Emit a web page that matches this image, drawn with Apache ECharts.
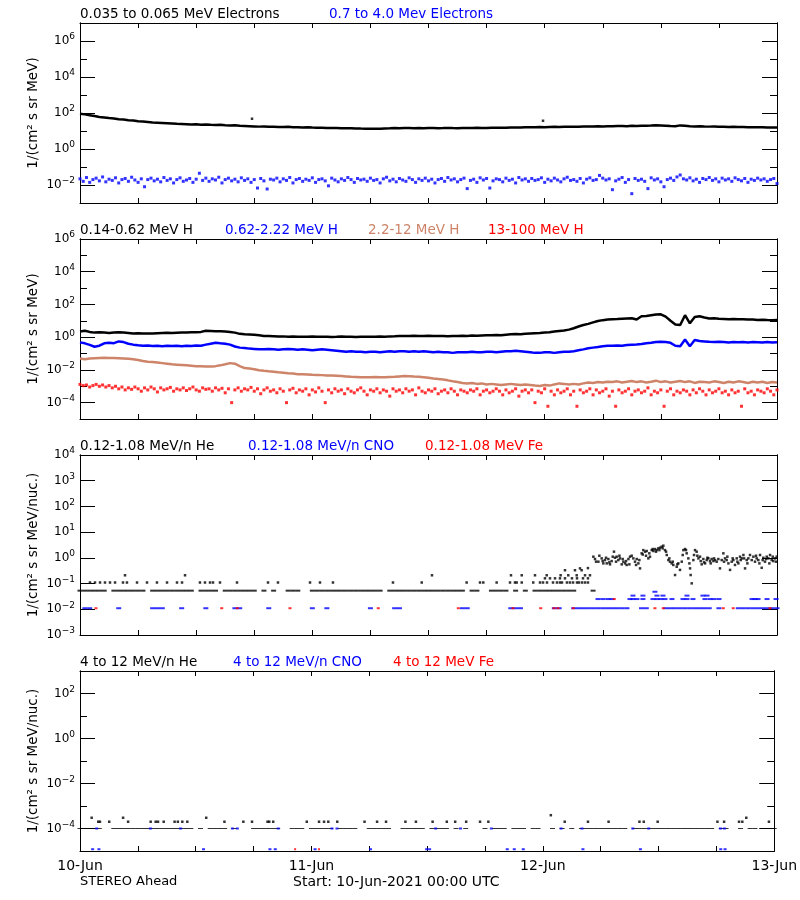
<!DOCTYPE html>
<html><head><meta charset="utf-8">
<script src="https://cdn.jsdelivr.net/npm/echarts@6/dist/echarts.min.js"></script>
<style>html,body{margin:0;padding:0;background:#fff}#c{width:800px;height:900px}</style>
</head><body><div id="c"></div>
<script>
// ---------------- DATA ----------------
// time axis: hours since 10-Jun-2021 00:00 UTC
const STEP30 = 0.5;      // hours between samples of 30-min arrays
const STEP20 = 1 / 3;    // hours between samples of 20-min arrays
const dayLabels = ['10-Jun', '11-Jun', '12-Jun', '13-Jun'];

// Panel 1: electrons
const elecLow = [92,84,76,68,60,56,52,49,45,43,
40,38,35,34,32,30,29,28,27,26,
25,24.5,24,23,23.5,22.5,23,22,21.5,22,
21,20.5,21,19.5,19,18.5,18,17.5,17.8,17,
17.2,16.8,16.5,17,16.2,16,15.8,16,15.5,15.2,
15,14.8,14.5,14.7,14.2,14,14.3,13.8,13.6,13.5,
13.4,13.2,13.5,13.8,14,14.5,14.2,14.5,14.8,14.3,
14.5,14.2,14.6,14.8,14.4,14.6,14.9,14.5,14.3,14.7,
14.5,14.8,15,14.6,14.9,15.2,15,15.4,15.1,15.5,
15.8,15.5,16,16.3,16,16.5,16.2,16.8,17,16.6,
17.2,17,17.5,17.3,17.8,18,17.6,18.2,18,18.5,
18.3,18.8,19,18.6,19.5,19,19.8,19.3,20,21,
20.5,19.8,19,18.5,20.5,19.5,18.2,18,18.4,17.8,
17.5,17.8,17.2,17,16.8,17,16.5,16.7,16.2,16.4,
16,16.2,15.8,15.5,15.6];
const elecLowExtra = [[17.77,48],[47.83,37]];
const elecHigh = [0.022,0.016,0.026,0.014,0.02,0.024,0.017,0.028,0.015,0.021,
0.018,0.025,0.013,0.02,0.023,0.016,0.027,0.019,0.014,0.022,
0.008,0.02,0.024,0.017,0.021,0.015,0.026,0.018,0.022,0.013,
0.02,0.025,0.016,0.019,0.023,0.014,0.021,0.045,0.018,0.024,
0.016,0.022,0.019,0.027,0.013,0.02,0.024,0.017,0.021,0.015,
0.025,0.018,0.022,0.014,0.02,0.0068,0.023,0.017,0.006,0.021,
0.019,0.024,0.015,0.022,0.018,0.026,0.013,0.02,0.023,0.016,
0.021,0.018,0.025,0.014,0.02,0.022,0.017,0.009,0.024,0.019,
0.015,0.022,0.018,0.026,0.02,0.014,0.023,0.019,0.021,0.016,
0.024,0.018,0.02,0.013,0.022,0.027,0.017,0.021,0.015,0.023,
0.019,0.016,0.025,0.02,0.014,0.022,0.018,0.024,0.017,0.021,
0.013,0.02,0.023,0.016,0.026,0.019,0.022,0.015,0.02,0.024,
0.0063,0.018,0.021,0.014,0.025,0.019,0.023,0.0068,0.017,0.022,
0.02,0.015,0.024,0.018,0.021,0.013,0.026,0.019,0.022,0.016,
0.023,0.018,0.02,0.025,0.014,0.021,0.017,0.024,0.019,0.015,
0.022,0.027,0.018,0.02,0.016,0.023,0.013,0.021,0.025,0.018,
0.02,0.034,0.024,0.019,0.022,0.0055,0.017,0.021,0.026,0.014,
0.02,0.0033,0.023,0.018,0.021,0.016,0.0063,0.025,0.019,0.022,
0.015,0.008,0.02,0.024,0.018,0.028,0.036,0.022,0.019,0.025,
0.017,0.021,0.014,0.023,0.02,0.026,0.018,0.022,0.015,0.024,
0.019,0.022,0.016,0.025,0.02,0.017,0.023,0.014,0.021,0.018,
0.024,0.019,0.022,0.016,0.02,0.023,0.012];

// Panel 2: protons
const hLow = [2.2,2.5,2.1,1.9,2.0,1.9,1.8,1.9,2.0,1.9,
1.8,1.7,1.75,1.7,1.65,1.7,1.75,1.8,1.85,1.8,
1.85,1.9,1.9,2.0,2.0,2.1,2.5,2.4,2.3,2.3,
2.2,2.1,1.9,1.6,1.5,1.45,1.4,1.3,1.2,1.2,
1.15,1.1,1.12,1.08,1.1,1.05,1.07,1.05,1.1,1.06,
1.05,1.08,1.04,1.06,1.1,1.05,1.07,1.04,1.06,1.08,
1.05,1.07,1.1,1.08,1.12,1.15,1.2,1.18,1.2,1.22,
1.2,1.18,1.22,1.2,1.17,1.2,1.15,1.18,1.2,1.22,
1.2,1.25,1.22,1.28,1.3,1.3,1.35,1.3,1.4,1.5,
1.55,1.5,1.6,1.7,1.75,1.8,1.9,2.0,2.2,2.4,
2.6,2.9,3.5,4.5,5.5,6.5,8,9.8,11,12,
12.6,13,13.5,14,14.5,12,19,20,22,24,
25,18,10,6,5.5,22,7,17,19,16,
14,14.5,13.5,13,12.5,13,12.3,12.5,12.2,12,
11.2,11.5,11.2,11,11.2];
const hMid = [0.48,0.42,0.34,0.26,0.3,0.42,0.45,0.43,0.55,0.5,
0.4,0.35,0.32,0.3,0.31,0.29,0.3,0.28,0.3,0.29,
0.3,0.28,0.3,0.29,0.31,0.3,0.35,0.4,0.45,0.42,
0.4,0.35,0.27,0.23,0.22,0.2,0.19,0.18,0.18,0.19,
0.18,0.17,0.18,0.19,0.18,0.17,0.18,0.17,0.16,0.17,
0.18,0.17,0.16,0.15,0.14,0.13,0.14,0.13,0.13,0.12,
0.13,0.13,0.12,0.13,0.14,0.13,0.14,0.14,0.13,0.14,
0.13,0.14,0.13,0.12,0.13,0.12,0.12,0.11,0.12,0.12,
0.12,0.13,0.12,0.12,0.13,0.13,0.12,0.13,0.14,0.14,
0.15,0.14,0.13,0.12,0.11,0.11,0.12,0.12,0.11,0.12,
0.13,0.13,0.14,0.16,0.18,0.21,0.23,0.25,0.28,0.3,
0.3,0.31,0.3,0.33,0.35,0.36,0.38,0.42,0.45,0.5,
0.52,0.5,0.45,0.3,0.28,0.73,0.28,0.67,0.58,0.55,
0.52,0.5,0.52,0.5,0.48,0.5,0.49,0.5,0.48,0.5,
0.49,0.48,0.5,0.48,0.49];
const hHigh = [0.05,0.045,0.05,0.052,0.054,0.055,0.053,0.054,0.052,0.05,
0.048,0.045,0.04,0.035,0.032,0.03,0.028,0.026,0.024,0.022,
0.021,0.02,0.019,0.018,0.017,0.017,0.016,0.016,0.017,0.019,
0.022,0.026,0.024,0.017,0.013,0.012,0.011,0.0095,0.0088,0.0082,
0.0078,0.0072,0.0068,0.0062,0.006,0.0055,0.0054,0.0052,0.005,0.0049,
0.0048,0.0046,0.0045,0.0044,0.0042,0.004,0.0038,0.0037,0.0036,0.0035,
0.0036,0.0037,0.0036,0.0035,0.0037,0.0038,0.004,0.0042,0.0041,0.0039,
0.0038,0.0036,0.0033,0.003,0.0028,0.0026,0.0023,0.002,0.0018,0.0016,
0.0015,0.0016,0.0014,0.0015,0.0013,0.0014,0.0013,0.0012,0.0013,0.0014,
0.0013,0.0012,0.0013,0.0012,0.0011,0.00105,0.0012,0.0011,0.0013,0.0015,
0.0014,0.0013,0.0014,0.0013,0.0015,0.0017,0.0016,0.0018,0.0017,0.0019,
0.0018,0.002,0.0017,0.0019,0.0021,0.0018,0.002,0.0017,0.0019,0.0022,
0.0018,0.002,0.0017,0.0019,0.0021,0.0018,0.002,0.0016,0.0019,0.0018,
0.0017,0.002,0.0018,0.0016,0.0019,0.0017,0.002,0.0018,0.0016,0.0019,
0.0017,0.0019,0.0016,0.0018,0.0017];
const hVHigh = [0.0013,0.0011,0.0012,0.0009,0.0011,0.0013,0.001,0.0012,0.0009,0.0011,
0.0008,0.001,0.0007,0.0009,0.0006,0.0008,0.00065,0.0009,0.0007,0.0005,
0.0008,0.0006,0.0009,0.0007,0.00045,0.0008,0.0006,0.0007,0.00085,0.0005,
0.0007,0.0006,0.0008,0.00055,0.0007,0.0009,0.0006,0.0005,0.0008,0.00065,
0.0007,0.0005,0.0008,0.0006,0.00075,0.0004,0.0007,0.0001,0.0006,0.0008,
0.0005,0.0007,0.0006,0.00085,0.0005,0.0007,0.00035,0.0006,0.0008,0.0005,
0.0006,0.0004,0.0007,0.0005,0.0001,0.0006,0.00075,0.0004,0.0006,0.0005,
0.0007,0.0003,0.0006,0.00045,0.0008,0.0005,0.0001,0.0006,0.0004,0.0007,
0.0005,0.0006,0.00035,0.0007,0.0005,0.0004,0.0006,0.0008,0.0005,0.0003,
0.0006,0.0005,0.0007,0.0004,0.0006,0.0005,0.00025,0.0007,0.0005,0.0006,
0.0004,0.0007,0.0005,0.0006,0.0003,0.0008,0.0005,0.0004,0.0006,0.0005,
0.0007,0.00035,0.0005,0.0006,0.0004,0.0007,0.0005,0.0003,0.0006,0.0005,
0.0004,0.0006,0.0005,0.0007,0.0003,0.0005,0.0006,0.0004,0.0005,0.0007,
0.0005,0.0003,0.0006,0.0004,0.0005,0.0007,0.00025,0.0005,0.0006,0.0004,
0.0006,0.0001,0.0005,0.0004,0.0007,0.00006,0.0005,0.0003,0.0006,0.0004,
0.0005,0.0007,0.0003,0.0005,0.00006,0.0006,0.0004,0.0005,0.0007,0.0003,
0.0006,0.0004,0.0005,0.0007,0.00025,0.0005,0.00006,0.0006,0.0004,0.0005,
0.0007,0.0003,0.0005,0.0006,0.0004,0.0005,0.0008,0.0003,0.0005,0.0004,
0.0006,0.00006,0.0005,0.0007,0.0003,0.0005,0.0004,0.0006,0.0005,0.0003,
0.0006,0.0004,0.0007,0.0005,0.0003,0.0006,0.0004,0.0005,0.0007,0.0004,
0.0005,0.0003,0.0006,0.0004,0.0005,0.00006,0.0007,0.0004,0.0005,0.0003,
0.0006,0.0005,0.0004,0.0007,0.0005,0.0003,0.0006];

// Panel 3: 0.12-1.08 MeV/n ions
const heLowBase = [0.053,0.053,0.053,0.053,0.053,0.053,null,0.053,0.053,0.053,
0.053,0.053,0.053,0.053,null,0.053,0.053,0.053,0.053,0.053,
0.053,0.053,0.053,0.053,null,0.053,0.053,0.053,0.053,null,
0.053,0.053,0.053,0.053,0.053,0.053,0.053,null,0.053,null,
0.053,null,null,0.053,0.053,0.053,null,null,0.053,0.053,
0.053,0.053,0.053,0.053,0.053,0.053,0.053,0.053,0.053,0.053,
0.053,0.053,0.053,null,0.053,0.053,0.053,0.053,0.053,0.053,
0.053,0.053,0.053,0.053,0.053,0.053,0.053,0.053,0.053,0.053,
null,0.053,0.053,null,null,0.053,0.053,0.053,0.053,null,
0.053,null,0.053,null,0.053,0.053,0.053,0.053,0.053,0.053,
0.053,0.053,0.053,null,null,null,0.053];
const heLowPts = [[1.03,0.11],[1.55,0.11],[2.07,0.11],[2.58,0.11],[3.1,0.11],[3.62,0.11],[4.44,0.11],[4.85,0.11],
[5.89,0.11],[6.92,0.11],[7.95,0.11],[8.99,0.11],[10.02,0.11],[10.54,0.11],[12.39,0.11],[12.91,0.11],[13.43,0.11],
[13.74,0.11],[14.46,0.11],[16.22,0.11],[19.42,0.11],[20.45,0.11],[23.76,0.11],[24.79,0.11],[26.13,0.11],[32.33,0.11],
[35.3,0.11],[39.94,0.11],[41.32,0.11],[41.66,0.11],[43.04,0.11],[44.42,0.11],[44.93,0.11],[45.11,0.11],[45.63,0.11],
[46.82,0.11],[47.52,0.11],[47.83,0.11],[48.24,0.11],[48.86,0.11],[49.27,0.11],[49.58,0.11],[49.79,0.11],[50.3,0.11],
[50.61,0.11],[50.93,0.11],[51.34,0.11],[51.54,0.11],[51.86,0.11],[52.17,0.11],[52.47,0.11],
[4.65,0.21],[10.85,0.21],[36.36,0.21],[44.52,0.21],[45.63,0.21],[47,0.21],[48.21,0.21],
[48.03,0.16],[48.55,0.16],[49.07,0.16],[49.58,0.16],[50.1,0.16],[50.82,0.16],[51.34,0.16],[51.96,0.16],[52.47,0.16],
[49.65,0.21],[50.44,0.21],[51.31,0.21],[52.17,0.21],[52.68,0.21],
[50.1,0.33],[51.13,0.33],[51.82,0.33],[51.65,0.39],[52.47,0.4],
[53.03,1.11],[53.2,0.9],[53.55,0.71],[53.89,0.955],[54.06,0.61],[54.23,0.82],[54.41,0.61],[54.58,0.9],[54.75,0.56],
[54.92,0.75],[55.16,1.74],[55.27,1.01],[55.44,1.11],[55.61,0.82],[55.78,0.955],[55.96,0.56],[56.13,0.71],[56.3,0.61],
[56.47,0.53],[56.65,0.9],[56.82,1.11],[56.99,1.21],[57.33,0.71],[57.51,0.9],[57.68,0.61],[57.85,0.39],[58.02,1.5],
[58.19,2.0],[58.37,1.74],[58.54,1.85],[58.71,0.955],[58.88,1.11],[59.06,2.0],[59.23,1.85],[59.4,2.2],[59.57,2.0],
[59.74,2.34],[59.92,2.48],[60.09,2.72],[60.26,2.97],[60.43,2.0],[60.61,1.29],[60.78,0.82],[60.95,0.71],[61.12,0.61],
[61.29,0.53],[61.47,0.215],[61.64,0.45],[61.81,0.61],[61.98,0.34],[62.16,0.71],[62.33,2.0],[62.5,2.2],[62.67,1.5],
[62.84,0.955],[63.02,0.39],[63.08,0.215],[63.19,0.102],[63.36,0.82],[63.53,2.0],[63.7,1.74],[63.88,0.955],[64.05,1.11],
[64.22,0.56],[64.39,0.9],[64.57,0.61],[64.74,0.82],[64.91,0.955],[65.08,0.75],[65.25,0.9],[65.43,0.75],[65.6,0.82],
[65.77,0.71],[66.11,0.39],[66.29,0.82],[66.46,1.5],[66.63,0.955],[66.8,0.82],[66.98,0.61],[67.15,0.34],[67.32,0.71],
[67.49,0.82],[67.66,0.53],[67.84,0.955],[68.01,0.61],[68.18,1.11],[68.35,0.955],[68.53,1.29],[68.7,0.39],[68.87,0.82],
[69.04,0.955],[69.21,1.29],[69.56,1.11],[69.73,0.71],[69.9,0.955],[70.07,0.82],[70.25,1.29],[70.42,0.41],[70.59,1.01],
[70.76,0.71],[70.94,1.11],[71.11,0.955],[71.28,1.29],[71.45,0.82],[71.62,0.75],[71.8,0.955],[71.97,1.11],
[53.31,0.71],[53.65,1.21],[53.99,0.75],[54.34,1.01],[54.68,0.67],[55.03,1.11],[55.37,0.71],[55.72,1.21],[56.06,0.9],
[56.4,0.75],[56.75,0.56],[57.16,0.955],[57.44,0.53],[57.78,0.82],[58.13,1.35],[58.47,1.21],[58.81,1.5],[59.16,2.2],
[59.5,1.74],[59.85,2.0],[60.19,2.34],[60.54,1.74],[60.88,0.955],[61.23,0.71],[61.71,0.56],[62.26,1.29],[62.6,2.0],
[62.95,0.61],[63.43,1.29],[63.77,1.21],[64.12,0.75],[64.46,0.67],[64.81,1.01],[65.15,0.61],[65.49,0.955],[65.94,0.9],
[66.53,0.71],[66.87,1.11],[67.42,0.955],[67.91,0.71],[68.25,0.82],[68.6,0.955],[68.94,0.61],[69.39,0.82],[69.83,1.21],
[70.18,0.61],[70.52,0.82],[70.87,0.9],[71.21,0.61],[71.56,1.11],[71.9,0.71]];
const cnoLowPts = [[0.5,0.011],[1,0.011],[4,0.011],[7.5,0.011],[8,0.011],[8.5,0.011],[10.5,0.011],[13,0.011],[16,0.011],
[16.5,0.011],[19.5,0.011],[24,0.011],[25.5,0.011],[30,0.011],[32.5,0.011],[33,0.011],[39.5,0.011],[40,0.011],
[44.5,0.011],[45,0.011],[45.5,0.011],[49,0.011],[49.5,0.011],[51,0.011],[51.5,0.011],[52,0.011],[52.5,0.011],
[53,0.011],[53.5,0.011],[54,0.011],[54.5,0.011],[55,0.011],[55.5,0.011],[56,0.011],[56.5,0.011],[58,0.011],
[58.5,0.011],[60.5,0.011],[61,0.011],[61.5,0.011],[62,0.011],[62.5,0.011],[63,0.011],[63.5,0.011],[64,0.011],
[64.5,0.011],[65,0.011],[66,0.011],[68,0.011],[68.5,0.011],[69,0.011],[69.5,0.011],[70,0.011],[70.5,0.011],
[71,0.011],[71.5,0.011],[72,0.011],
[53.51,0.025],[54.02,0.025],[54.54,0.025],[54.95,0.025],[56.81,0.025],[57.12,0.025],[57.53,0.025],[58.15,0.025],
[59.19,0.025],[59.6,0.025],[60.01,0.025],[60.43,0.025],[61.15,0.025],[62.29,0.025],[62.7,0.025],[63.32,0.025],
[64.56,0.025],[65.08,0.025],[65.49,0.025],[66.01,0.025],[69.42,0.025],[69.73,0.025],[70.04,0.025],[70.97,0.025],
[71.9,0.025],
[57.12,0.034],[58.15,0.034],[59.6,0.034],[60.22,0.034],[62.7,0.034],[64.35,0.034],[64.77,0.034],[59.39,0.048]];
const feLowPts = [[1.65,0.011],[14.64,0.011],[16.25,0.011],[21.69,0.011],[30.81,0.011],[39.08,0.011],[44.73,0.011],
[47.59,0.011],[48.96,0.011],[49.38,0.011],[50.96,0.011],[59.39,0.011],[60.25,0.011],[66.45,0.011],[67.48,0.011],
[71.27,0.011],[55.19,0.025]];

// Panel 4: 4-12 MeV/n ions
const heHighBase = [1e-4,1e-4,null,1e-4,1e-4,null,null,1e-4,1e-4,1e-4,
1e-4,1e-4,1e-4,1e-4,1e-4,1e-4,1e-4,1e-4,1e-4,1e-4,
1e-4,1e-4,1e-4,1e-4,null,1e-4,null,1e-4,1e-4,1e-4,
1e-4,null,1e-4,null,null,null,1e-4,1e-4,1e-4,1e-4,
1e-4,1e-4,null,null,1e-4,1e-4,1e-4,null,1e-4,1e-4,
1e-4,1e-4,1e-4,null,1e-4,1e-4,1e-4,1e-4,null,null,
1e-4,1e-4,1e-4,1e-4,1e-4,null,null,1e-4,1e-4,1e-4,
1e-4,1e-4,null,1e-4,1e-4,1e-4,1e-4,null,1e-4,null,
1e-4,null,null,null,1e-4,null,1e-4,1e-4,1e-4,null,
1e-4,1e-4,1e-4,null,1e-4,1e-4,null,null,1e-4,null,
1e-4,null,1e-4,null,1e-4,1e-4,1e-4,1e-4,1e-4,1e-4,
1e-4,1e-4,1e-4,1e-4,null,1e-4,1e-4,1e-4,1e-4,1e-4,
1e-4,1e-4,1e-4,1e-4,1e-4,1e-4,1e-4,1e-4,1e-4,1e-4,
1e-4,1e-4,null,1e-4,1e-4,null,null,1e-4,null,1e-4,
1e-4,null,1e-4,1e-4,1e-4];
const heHighPts = [[1.89,2e-4],[2.07,2e-4],[3.03,2e-4],[4.99,2e-4],[7.33,2e-4],[7.85,2e-4],[8.09,2e-4],[8.68,2e-4],
[9.81,2e-4],[10.15,2e-4],[10.61,2e-4],[11.13,2e-4],[14.98,2e-4],[16.94,2e-4],[17.84,2e-4],[19.45,2e-4],[19.63,2e-4],
[20.04,2e-4],[23.52,2e-4],[24.79,2e-4],[25.31,2e-4],[25.75,2e-4],[26.68,2e-4],[29.51,2e-4],[30.81,2e-4],[31.74,2e-4],
[33.75,2e-4],[34.84,2e-4],[36.57,2e-4],[38.04,2e-4],[38.91,2e-4],[40.05,2e-4],[41.49,2e-4],[42.35,2e-4],[50.27,2e-4],
[52.68,2e-4],[54.82,2e-4],[58.02,2e-4],[58.47,2e-4],[59.91,2e-4],[66.11,2e-4],[66.8,2e-4],[68.35,2e-4],[68.69,2e-4],
[71.45,2e-4],[1.21,3e-4],[4.47,3e-4],[13.09,3e-4],[69.1,3e-4],[48.83,3.9e-4]];
const cnoHighPts = [[1.73,1e-4],[7.3,1e-4],[10.43,1e-4],[15.8,1e-4],[16.32,1e-4],[20.56,1e-4],[26.13,1e-4],[26.65,1e-4],
[36.88,1e-4],[39.46,1e-4],[42.66,1e-4],[49.89,1e-4],[52.06,1e-4],[57.33,1e-4],[58.98,1e-4],[66.42,1e-4],[66.83,1e-4],
[1.31,1.2e-5],[1.96,1.2e-5],[12.81,1.2e-5],[19.7,1.2e-5],[20.25,1.2e-5],[24.38,1.2e-5],[30.13,1.2e-5],[35.95,1.2e-5],
[36.26,1.2e-5],[44.31,1.2e-5],[45.04,1.2e-5],[45.97,1.2e-5],[52.16,1.2e-5],[58.12,1.2e-5],[66.45,1.2e-5],[66.9,1.2e-5]];
const feHighPts = [[22.31,1.2e-5],[24.79,1.2e-5]];

const legendTexts = [
  ['0.035 to 0.065 MeV Electrons', '0.7 to 4.0 Mev Electrons'],
  ['0.14-0.62 MeV H', '0.62-2.22 MeV H', '2.2-12 MeV H', '13-100 MeV H'],
  ['0.12-1.08 MeV/n He', '0.12-1.08 MeV/n CNO', '0.12-1.08 MeV Fe'],
  ['4 to 12 MeV/n He', '4 to 12 MeV/n CNO', '4 to 12 MeV Fe']
];
const yNames = ['1/(cm\u00B2 s sr MeV)', '1/(cm\u00B2 s sr MeV)', '1/(cm\u00B2 s sr MeV/nuc.)', '1/(cm\u00B2 s sr MeV/nuc.)'];
const footLeft = 'STEREO Ahead';
const footStart = 'Start: 10-Jun-2021 00:00 UTC';

// ---------------- LAYOUT / STYLE ----------------
const FONT = 'DejaVu Sans';
const BLACK = '#000000', BLUE = '#0000ff', RED = '#ff0000', BROWN = '#cd8468';
const panels = [
  { top: 23,  min: -3, max: 7, step: 2, legendX: [80, 329], colors: [BLACK, BLUE] },
  { top: 239, min: -5, max: 6, step: 2, legendX: [80, 225, 368, 488], colors: [BLACK, BLUE, BROWN, RED] },
  { top: 455, min: -3, max: 4, step: 1, legendX: [80, 248, 425], colors: [BLACK, BLUE, RED] },
  { top: 671, min: -5, max: 3, step: 2, legendX: [80, 233, 393], colors: [BLACK, BLUE, RED] }
];
const GH = 180, GL = 80, GW = 697;

const lg = v => Math.log10(v);
const fromSeries = (arr, step) => arr.map((v, i) => v == null ? null : [i * step, lg(v)]).filter(Boolean);
const fromPairs = arr => arr.map(p => [p[0], lg(p[1])]);

function expLabel(v, every) {
  const e = Math.round(v);
  if (Math.abs(v - e) > 1e-6) return '';
  if (((e % every) + every) % every !== 0) return '';
  const es = e < 0 ? '\u2212' + (-e) : String(e);
  return '{b|10}{s|' + es + '}';
}

const grid = [], xAxis = [], yAxis = [], series = [], title = [];
panels.forEach((p, k) => {
  grid.push({ left: GL, top: p.top, width: GW, height: GH, containLabel: false });
  const axLine = { show: true, onZero: false, lineStyle: { color: BLACK, width: 1 } };
  const xBase = { type: 'value', gridIndex: k, min: 0, max: 72, interval: 6, splitLine: { show: false },
    axisLine: axLine, axisTick: { inside: true, length: 5, lineStyle: { color: BLACK } } };
  xAxis.push(Object.assign({}, xBase, { position: 'bottom',
    axisLabel: k === 3 ? { show: true, margin: 8, color: BLACK, fontFamily: FONT, fontSize: 14,
      formatter: v => (v % 24 === 0 ? dayLabels[v / 24] : ''), showMinLabel: true, showMaxLabel: true } : { show: false } }));
  xAxis.push(Object.assign({}, xBase, { position: 'top', axisLabel: { show: false } }));
  const span = p.max - p.min;
  const yBase = { type: 'value', gridIndex: k, min: p.min, max: p.max, splitLine: { show: false }, axisLine: axLine };
  const major = { splitNumber: Math.ceil(span / p.step), minInterval: p.step, maxInterval: p.step };
  yAxis.push(Object.assign({}, yBase, major, { position: 'left',
    axisTick: { inside: true, length: 15, lineStyle: { color: BLACK } },
    axisLabel: { show: true, margin: 5, showMinLabel: true, showMaxLabel: true,
      formatter: v => expLabel(v, p.step),
      rich: { b: { fontFamily: FONT, fontSize: 12, color: BLACK, verticalAlign: 'middle' },
              s: { fontFamily: FONT, fontSize: 9, color: BLACK, verticalAlign: 'middle', padding: [0, 0, 8, 0] } } },
    name: yNames[k], nameLocation: 'middle', nameRotate: 90, nameGap: 40, nameMoveOverlap: false,
    nameTextStyle: { fontFamily: FONT, fontSize: 13.5, color: BLACK } }));
  yAxis.push(Object.assign({}, yBase, { position: 'left', interval: 1,
    axisTick: { inside: true, length: 7, lineStyle: { color: BLACK } }, axisLabel: { show: false } }));
  yAxis.push(Object.assign({}, yBase, major, { position: 'right',
    axisTick: { inside: true, length: 15, lineStyle: { color: BLACK } }, axisLabel: { show: false } }));
  yAxis.push(Object.assign({}, yBase, { position: 'right', interval: 1,
    axisTick: { inside: true, length: 7, lineStyle: { color: BLACK } }, axisLabel: { show: false } }));
  legendTexts[k].forEach((t, j) => {
    title.push({ text: t, left: p.legendX[j], top: p.top - 16, padding: 0,
      textStyle: { fontFamily: FONT, fontSize: 13.5, fontWeight: 'normal', color: p.colors[j] } });
  });
});
title.push({ text: footLeft, left: 80, top: 875, padding: 0, textStyle: { fontFamily: FONT, fontSize: 13, fontWeight: 'normal', color: BLACK } });
title.push({ text: footStart, left: 293, top: 875, padding: 0, textStyle: { fontFamily: FONT, fontSize: 14, fontWeight: 'normal', color: BLACK } });

function line(k, data, color, z) {
  return { type: 'line', xAxisIndex: 2 * k, yAxisIndex: 4 * k, data, showSymbol: false, symbol: 'none',
    lineStyle: { color, width: 2.5 }, animation: false, silent: true, z: z || 2 };
}
function dots(k, data, color, size, z) {
  return { type: 'scatter', xAxisIndex: 2 * k, yAxisIndex: 4 * k, data, symbol: 'rect', symbolSize: size,
    itemStyle: { color }, animation: false, silent: true, z: z || 2 };
}

// Panel 1
series.push(line(0, fromSeries(elecLow, STEP30), BLACK));
series.push(dots(0, fromPairs(elecLowExtra), BLACK, 2.5));
series.push(dots(0, fromSeries(elecHigh, STEP20), BLUE, 3));
// Panel 2
series.push(dots(1, fromSeries(hVHigh, STEP20), RED, 3, 2));
series.push(line(1, fromSeries(hHigh, STEP30), BROWN, 3));
series.push(line(1, fromSeries(hMid, STEP30), BLUE, 4));
series.push(line(1, fromSeries(hLow, STEP30), BLACK, 5));
// Panel 3
series.push(dots(2, fromSeries(heLowBase, STEP30), BLACK, [5, 2]));
series.push(dots(2, fromPairs(heLowPts), BLACK, 2.5));
series.push(dots(2, fromPairs(cnoLowPts), BLUE, [5, 2], 3));
series.push(dots(2, fromPairs(feLowPts), RED, [3, 2], 4));
// Panel 4
series.push(dots(3, fromSeries(heHighBase, STEP30), BLACK, [5, 1]));
series.push(dots(3, fromPairs(heHighPts), BLACK, 2.5));
series.push(dots(3, fromPairs(cnoHighPts), BLUE, [3, 2], 3));
series.push(dots(3, fromPairs(feHighPts), RED, [2, 2], 4));

const chart = echarts.init(document.getElementById('c'), null, { renderer: 'canvas' });
chart.setOption({ backgroundColor: '#ffffff', animation: false, textStyle: { fontFamily: FONT },
  title, grid, xAxis, yAxis, series });
</script>
</body></html>
